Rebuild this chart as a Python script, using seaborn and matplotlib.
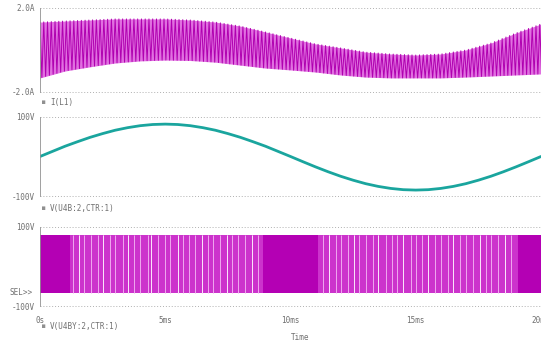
import numpy as np
import pandas as pd
import seaborn as sns
import matplotlib
matplotlib.use("Agg")
import matplotlib.pyplot as plt

# --- data (time in ms) ---
env_t = list(range(0, 21))
i_upper = [1.33, 1.38, 1.43, 1.48, 1.48, 1.48, 1.43, 1.33, 1.14, 0.86, 0.57,
           0.29, 0.10, -0.10, -0.19, -0.24, -0.19, 0.00, 0.33, 0.81, 1.24]
i_lower = [-1.33, -1.00, -0.80, -0.62, -0.52, -0.48, -0.50, -0.58, -0.72, -0.86, -0.95,
           -1.05, -1.19, -1.29, -1.33, -1.33, -1.33, -1.29, -1.24, -1.19, -1.14]
ripple_period_ms = 0.15

ctrl_t = [i * 0.5 for i in range(41)]
ctrl_v = [0, 13, 26, 37.5, 48.5, 58, 66.5, 73, 78, 81, 82, 81, 78, 73, 66.5, 58,
          48.5, 37.5, 26, 13, 0, -13.3, -26.3, -38.6, -50, -60, -68.8, -75.7,
          -80.8, -84, -85, -84, -80.8, -75.7, -68.8, -60, -50, -38.6, -26.3,
          -13.3, 0]

pwm_hi, pwm_lo = 80, -67
striped_spans = [(1.2, 8.9), (11.1, 19.1)]
stripe_ms = [1.3, 1.55, 1.75, 2.05, 2.3, 2.5, 2.8, 3.0, 3.3, 3.5, 3.75, 4.0, 4.3,
             4.45, 4.7, 5.0, 5.2, 5.5, 5.7, 5.95, 6.2, 6.45, 6.7, 6.9, 7.2, 7.45,
             7.65, 7.9, 8.2, 8.45, 8.7, 11.3, 11.55, 11.8, 12.0, 12.3, 12.55,
             12.75, 13.0, 13.3, 13.5, 13.8, 14.05, 14.25, 14.5, 14.8, 15.0, 15.25,
             15.5, 15.75, 16.0, 16.3, 16.5, 16.75, 17.0, 17.3, 17.55, 17.8, 18.0,
             18.3, 18.55, 18.8]
white_ms = [1.55, 2.5, 3.5, 4.45, 5.5, 6.45, 7.45, 8.45, 11.55, 12.55, 13.5,
            14.5, 15.5, 16.5, 17.55, 18.55]

x_ticks = [0, 5, 10, 15, 20]
x_labels = ["0s", "5ms", "10ms", "15ms", "20ms"]

sns.set_style("white")
plt.rcParams['font.family'] = ['DejaVu Sans Mono']
txt = "#707070"
fs = 5.5

W, H = 541, 345
fig = plt.figure(figsize=(W / 100, H / 100), dpi=100)


def pax(top, bottom):
    return fig.add_axes([40 / W, 1 - bottom / H, 501 / W, (bottom - top) / H])


def style(ax, ylo, yhi, lo_lab, hi_lab):
    ax.set_xlim(0, 20)
    ax.set_ylim(ylo, yhi)
    for s in ["top", "right", "bottom"]:
        ax.spines[s].set_visible(False)
    ax.spines["left"].set_color("#909090")
    ax.spines["left"].set_linewidth(0.6)
    ax.set_yticks([ylo, yhi])
    ax.set_yticklabels([lo_lab, hi_lab], fontsize=fs, color=txt)
    ax.set_yticks(np.linspace(ylo, yhi, 21), minor=True)
    ax.tick_params(axis="y", which="both", length=2, width=0.5, color="#909090", pad=2)
    ax.set_xticks([])
    ax.set_xlabel("")
    ax.set_ylabel("")
    for y in (ylo, yhi):
        ax.axhline(y, ls=(0, (1, 2)), lw=0.7, color="#b0b0b0", clip_on=False)


# top panel: inductor current
ax1 = pax(8, 92)
half = ripple_period_ms / 2
zt = np.arange(0, 20 + half, half)
up = np.interp(zt, env_t, i_upper)
dn = np.interp(zt, env_t, i_lower)
zv = np.where(np.arange(len(zt)) % 2 == 0, up, dn)
ax1.fill_between(zt, dn, up, color="#e070e0", lw=0)
sns.lineplot(x=zt, y=zv, ax=ax1, color="#b000b0", lw=0.7, estimator=None)
style(ax1, -2, 2, "-2.0A", "2.0A")

# middle panel: control sine
ax2 = pax(117, 196)
df = pd.DataFrame({"t": ctrl_t, "v": ctrl_v})
sns.lineplot(data=df, x="t", y="v", ax=ax2, color="#1aa59e", lw=2.0, estimator=None)
style(ax2, -100, 100, "-100V", "100V")

# bottom panel: PWM output
ax3 = pax(227, 306)
ax3.fill_between([0, 20], pwm_lo, pwm_hi, color="#b400b4", lw=0)
for a, b in striped_spans:
    ax3.fill_between([a, b], pwm_lo, pwm_hi, color="#cc33cc", lw=0)
ax3.vlines(stripe_ms, pwm_lo, pwm_hi, color="#f0a8f0", lw=0.7)
ax3.vlines(white_ms, pwm_lo, pwm_hi, color="white", lw=0.5)
style(ax3, -100, 100, "-100V", "100V")
ax3.set_xticks(x_ticks)
ax3.set_xticklabels(x_labels, fontsize=fs, color=txt)
ax3.tick_params(axis="x", length=2, width=0.5, color="#909090", pad=5)
ax3.text(-0.3, pwm_lo, "SEL>>", fontsize=fs, color=txt, ha="right", va="center")

# trace names under each panel
for y, name in [(103, "I(L1)"), (208, "V(U4B:2,CTR:1)"), (327, "V(U4BY:2,CTR:1)")]:
    fig.text(42 / W, 1 - y / H, "\u25a0", fontsize=4, color="#909090", va="center")
    fig.text(50 / W, 1 - y / H, name, fontsize=fs, color=txt, va="center")
fig.text(300 / W, 1 - 338 / H, "Time", fontsize=fs, color=txt, ha="center", va="center")

fig.savefig("out.png", dpi=100)
